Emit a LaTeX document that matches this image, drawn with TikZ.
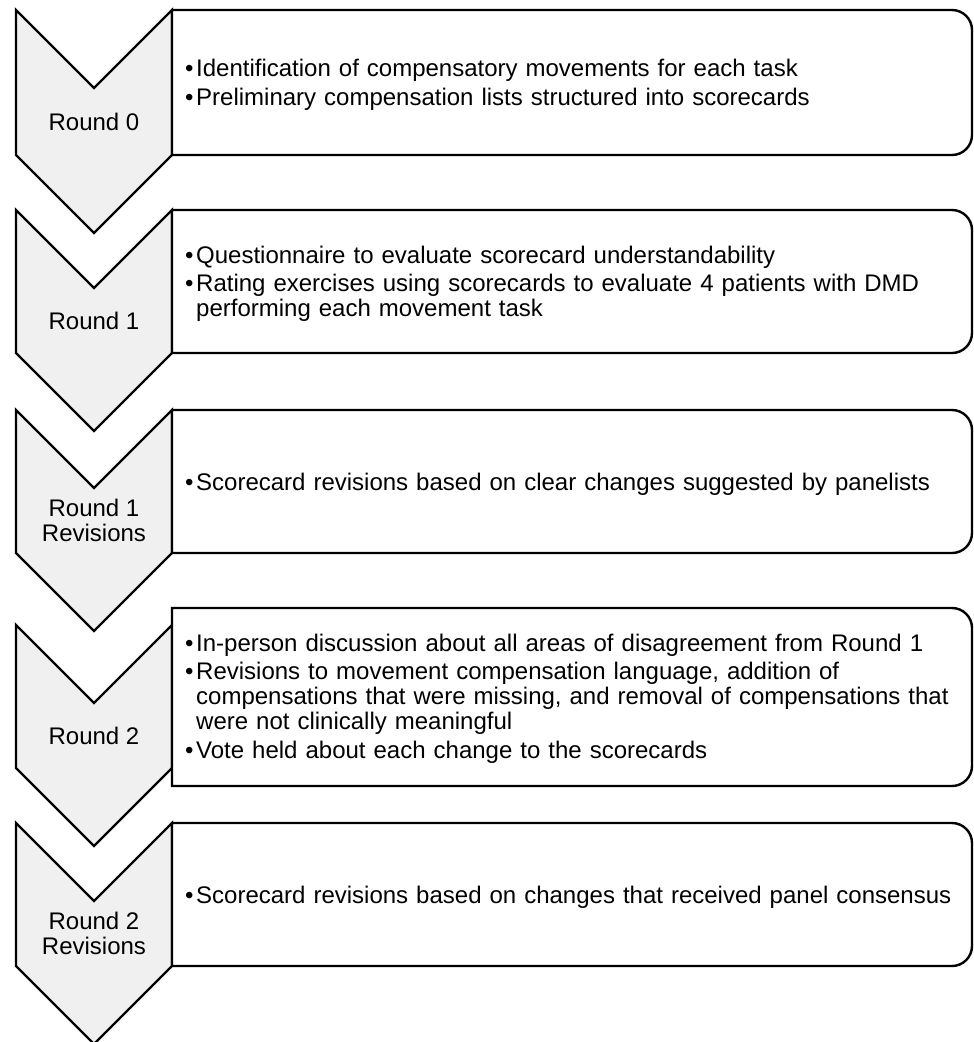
\documentclass[tikz,border=0pt]{standalone}
\usepackage{fontspec}
\setmainfont{Liberation Sans}
\definecolor{chevgray}{RGB}{240,240,240}
\newcommand{\bul}{\par\parskip=3.5pt\hangindent=11pt\hangafter=1\noindent\makebox[11pt][l]{\textbullet}}

\begin{document}
\begin{tikzpicture}[x=1pt,y=-1pt,line width=2.4pt]
  \tikzstyle{chevron}=[draw=black,fill=chevgray]
  \tikzstyle{stepframe}=[draw=black,fill=white]
  \tikzstyle{roundlabel}=[align=center,inner sep=0pt,font=\fontsize{24}{25}\selectfont]
  \tikzstyle{itemtext}=[anchor=west,text width=785pt,align=left,inner sep=0pt,font=\fontsize{24}{25}\selectfont]
  \useasboundingbox (0,0) rectangle (974,1042);

  % round 0
  \draw[chevron] (16,10) -- (94,88) -- (172,10) -- (172,155) -- (94,233) -- (16,155) -- cycle;
  \draw[stepframe] (172,10) -- (952,10) arc[start angle=-90,end angle=0,radius=20] -- (972,135) arc[start angle=0,end angle=90,radius=20] -- (172,155) -- cycle;
  \node[roundlabel] (round0) at (94,121.5) {Round 0};
  \node[itemtext] (items0) at (184,79) {\bul Identification of compensatory movements for each task
    \bul Preliminary compensation lists structured into scorecards};

  % round 1
  \draw[chevron] (16,210) -- (94,288) -- (172,210) -- (172,353) -- (94,431) -- (16,353) -- cycle;
  \draw[stepframe] (172,210) -- (952,210) arc[start angle=-90,end angle=0,radius=20] -- (972,333) arc[start angle=0,end angle=90,radius=20] -- (172,353) -- cycle;
  \node[roundlabel] (round1) at (94,320.5) {Round 1};
  \node[itemtext] (items1) at (184,278) {\bul Questionnaire to evaluate scorecard understandability
    \bul Rating exercises using scorecards to evaluate 4 patients with DMD\newline performing each movement task\endgraf};

  % round 1 revisions
  \draw[chevron] (16,410) -- (94,488) -- (172,410) -- (172,553) -- (94,631) -- (16,553) -- cycle;
  \draw[stepframe] (172,410) -- (952,410) arc[start angle=-90,end angle=0,radius=20] -- (972,533) arc[start angle=0,end angle=90,radius=20] -- (172,553) -- cycle;
  \node[roundlabel] (round1rev) at (94,520.5) {Round 1\\Revisions};
  \node[itemtext] (items1rev) at (184,479) {\bul Scorecard revisions based on clear changes suggested by panelists};

  % round 2
  \draw[chevron] (16,625) -- (94,703) -- (172,625) -- (172,768) -- (94,846) -- (16,768) -- cycle;
  \draw[stepframe] (172,608) -- (952,608) arc[start angle=-90,end angle=0,radius=20] -- (972,766) arc[start angle=0,end angle=90,radius=20] -- (172,786) -- cycle;
  \node[roundlabel] (round2) at (94,735.5) {Round 2};
  \node[itemtext] (items2) at (184,693) {\bul In-person discussion about all areas of disagreement from Round 1
    \bul Revisions to movement compensation language, addition of\newline compensations that were missing, and removal of compensations that\newline were not clinically meaningful
    \bul Vote held about each change to the scorecards};

  % round 2 revisions
  \draw[chevron] (16,823) -- (94,901) -- (172,823) -- (172,966) -- (94,1044) -- (16,966) -- cycle;
  \draw[stepframe] (172,823) -- (952,823) arc[start angle=-90,end angle=0,radius=20] -- (972,946) arc[start angle=0,end angle=90,radius=20] -- (172,966) -- cycle;
  \node[roundlabel] (round2rev) at (94,933.5) {Round 2\\Revisions};
  \node[itemtext] (items2rev) at (184,892) {\bul Scorecard revisions based on changes that received panel consensus};

\end{tikzpicture}
\end{document}
